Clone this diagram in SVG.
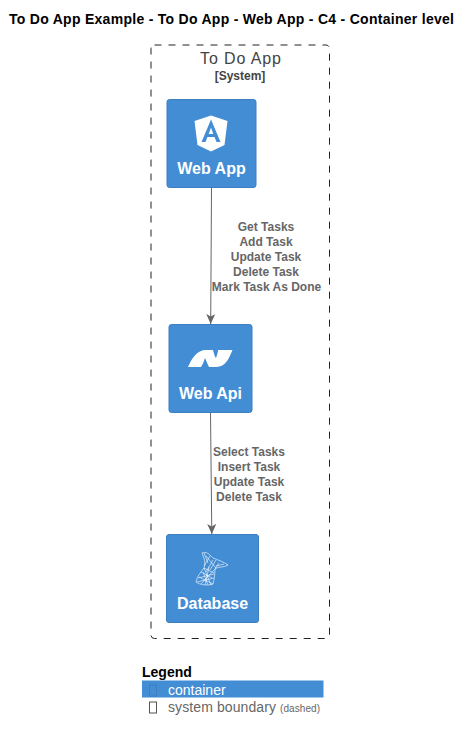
<svg xmlns="http://www.w3.org/2000/svg" width="472" height="741" viewBox="0 0 472 741">
<style>
text{font-family:"Liberation Sans",Arial,sans-serif}
.n{fill:#438DD5;stroke:#3C7FC0;stroke-width:1}
.t{font-size:16px;font-weight:bold;fill:#fff;text-anchor:middle}
.l{font-size:12px;font-weight:bold;fill:#666;text-anchor:middle}
.c{stroke:#666;stroke-width:1;fill:none;marker-end:url(#a)}
.w{fill:none;stroke:#fff;stroke-width:.6}
</style>
<defs><marker id="a" markerUnits="userSpaceOnUse" markerWidth="11" markerHeight="10" refX="10" refY="4.500" orient="auto"><path d="M0 0L10 4.500L0 9L2.500 4.500Z" fill="#666"/></marker></defs>
<rect width="472" height="741" fill="#fff"/>
<text x="9" y="24" font-size="14" font-weight="bold" fill="#000" textLength="445" lengthAdjust="spacing">To Do App Example - To Do App - Web App - C4 - Container level</text>
<g id="boundary">
<rect x="151" y="45" width="178.500" height="593.500" rx="3.500" fill="none" stroke="#222" stroke-width="1" stroke-dasharray="7 7"/>
<text x="200" y="63.500" font-size="16" fill="#444" textLength="81" lengthAdjust="spacing">To Do App</text>
<text x="240" y="79.500" font-size="12" font-weight="bold" text-anchor="middle" fill="#444">[System]</text>
</g>
<g id="connectors">
<path class="c" d="M211.500 188L210.700 324"/>
<path class="c" d="M210.500 413L211.800 534"/>
<g class="l">
<text x="266" y="231">Get Tasks</text>
<text x="266" y="246">Add Task</text>
<text x="266" y="261">Update Task</text>
<text x="266" y="276">Delete Task</text>
<text x="266.500" y="291">Mark Task As Done</text>
<text x="249" y="456">Select Tasks</text>
<text x="249" y="471">Insert Task</text>
<text x="249" y="486">Update Task</text>
<text x="249" y="501">Delete Task</text>
</g>
</g>
<g id="webapp">
<rect class="n" x="167" y="99.500" width="89" height="88" rx="2.500"/>
<path d="M211 115.500L194.500 121L197.500 145L211 151.500L224.500 145L227.500 121Z" fill="#fff"/>
<path d="M211 119.500L201.500 142H205.500L207.500 137H214.500L216.500 142H220.500ZM208.700 134L211 127.500L213.300 134Z" fill="#438DD5"/>
<text class="t" x="211.500" y="173.500">Web App</text>
</g>
<g id="webapi">
<rect class="n" x="169" y="324.500" width="83" height="88" rx="2.500"/>
<path d="M188 367C192 358 197 350 206 350H213C214 354 215 357 216 358C217 355 218 352 218 350H232.500C229 358 226 367 216 367H209C207 363 206 360 205 358C204 361 203 364 201 367Z" fill="#fff"/>
<text class="t" x="210.500" y="398.500">Web Api</text>
</g>
<g id="database">
<rect class="n" x="166.500" y="534.500" width="92" height="88" rx="2.500"/>
<g class="w">
<path d="M202 553C206 551 209 554 213 558C218 560 224 562 228 565C224 568 218 566 215 569C215 575 214 580 213 584C208 586 200 585 196 582C197 576 201 572 204 568C206 563 204 558 202 553Z"/>
<path d="M204 553L208 563M206 556L216 568M210 556L204 566M213 560L206 572M216 560L210 570M199 577L213 584M201 572L212 578M204 568L214 573M204 568L211 585M209 567L205 585M215 569L201 584M219 563L215 569M224 564L216 566M198 578L214 574M197 582L214 578M203 572L208 585"/>
</g>
<text class="t" x="212.500" y="608.500">Database</text>
</g>
<g id="legend">
<text x="142" y="677" font-size="14" font-weight="bold" fill="#000">Legend</text>
<rect x="142" y="680.500" width="181.500" height="17" fill="#438DD5"/>
<rect x="149.500" y="685" width="7" height="11" fill="none" stroke="#3C7FC0"/>
<text x="168" y="694.500" font-size="14" fill="#fff">container</text>
<rect x="149.500" y="702" width="7" height="11" fill="none" stroke="#555"/>
<text x="168" y="712" font-size="14" fill="#666" textLength="108" lengthAdjust="spacing">system boundary</text>
<text x="280" y="712" font-size="10" fill="#666" textLength="40" lengthAdjust="spacing">(dashed)</text>
</g>
</svg>
